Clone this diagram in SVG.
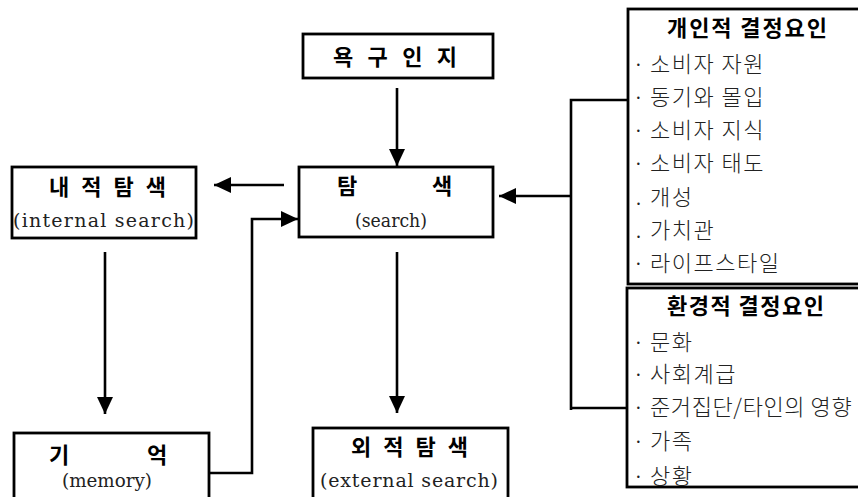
<svg xmlns="http://www.w3.org/2000/svg" width="858" height="497" viewBox="0 0 858 497">
  <style>
    .box { fill: #ffffff; stroke: #000000; stroke-width: 2.8; }
    .ttl { font-family: "Noto Sans CJK KR", "DejaVu Sans", sans-serif; font-weight: 700; font-size: 22px; fill: #000000; }
    .en { font-family: "DejaVu Serif", "Liberation Serif", serif; font-size: 19px; fill: #222222; }
    .item { font-family: "Noto Sans CJK KR", "DejaVu Sans", sans-serif; font-weight: 300; font-size: 22px; letter-spacing: 1.5px; fill: #222222; }
    .dot { font-family: "Liberation Serif", serif; font-size: 20px; fill: #222222; }
    .wire { fill: none; stroke: #000000; stroke-width: 2.6; }
    .arrow { fill: none; stroke: #000000; stroke-width: 2.6; marker-end: url(#head); }
  </style>
  <defs>
    <marker id="head" markerUnits="userSpaceOnUse" markerWidth="18" markerHeight="16" refX="17" refY="8" orient="auto">
      <path d="M0,0 L17,8 L0,16 Z" fill="#000000"/>
    </marker>
  </defs>
  <rect width="858" height="497" fill="#ffffff"/>

  <!-- connectors -->
  <g id="connectors">
    <line class="arrow" x1="397" y1="88" x2="397" y2="166"/>
    <line class="arrow" x1="284" y1="185" x2="214" y2="185"/>
    <line class="arrow" x1="105" y1="252" x2="105" y2="414"/>
    <path class="arrow" d="M209,473 H252 V219 H298"/>
    <line class="arrow" x1="397" y1="252" x2="397" y2="413"/>
    <path class="wire" d="M628,100 H571 V410"/>
    <line class="wire" x1="570" y1="408" x2="627" y2="408"/>
    <line class="arrow" x1="571" y1="196" x2="499" y2="196"/>
  </g>

  <!-- need recognition -->
  <g id="need">
    <rect class="box" x="303" y="34" width="190" height="44"/>
    <text class="ttl" x="333" y="65" textLength="124" lengthAdjust="spacing">욕 구 인 지</text>
  </g>

  <!-- search -->
  <g id="search">
    <rect class="box" x="299" y="167" width="194" height="70"/>
    <text class="ttl" x="337" y="194">탐</text>
    <text class="ttl" x="432" y="194">색</text>
    <text class="en" x="355" y="227" textLength="72" lengthAdjust="spacingAndGlyphs">(search)</text>
  </g>

  <!-- internal search -->
  <g id="internal">
    <rect class="box" x="12" y="167" width="184" height="71"/>
    <text class="ttl" x="49" y="194.5" textLength="117" lengthAdjust="spacing">내 적 탐 색</text>
    <text class="en" x="13" y="227" textLength="181" lengthAdjust="spacing">(internal search)</text>
  </g>

  <!-- memory -->
  <g id="memory">
    <rect class="box" x="14" y="433" width="195" height="70"/>
    <text class="ttl" x="49" y="462.5">기</text>
    <text class="ttl" x="147" y="462.5">억</text>
    <text class="en" x="62" y="487" textLength="90" lengthAdjust="spacingAndGlyphs">(memory)</text>
  </g>

  <!-- external search -->
  <g id="external">
    <rect class="box" x="313" y="428" width="195" height="75"/>
    <text class="ttl" x="351" y="454.5" textLength="117" lengthAdjust="spacing">외 적 탐 색</text>
    <text class="en" x="320" y="487" textLength="178" lengthAdjust="spacing">(external search)</text>
  </g>

  <!-- personal factors -->
  <g id="personal">
    <rect class="box" x="628" y="9" width="240" height="275"/>
    <text class="ttl" x="667" y="36" textLength="160" lengthAdjust="spacing">개인적 결정요인</text>
    <text class="dot" x="635" y="72">·</text>
    <text class="item" x="650" y="72">소비자 자원</text>
    <text class="dot" x="635" y="105">·</text>
    <text class="item" x="650" y="105">동기와 몰입</text>
    <text class="dot" x="635" y="138">·</text>
    <text class="item" x="650" y="138">소비자 지식</text>
    <text class="dot" x="635" y="171">·</text>
    <text class="item" x="650" y="171">소비자 태도</text>
    <text class="dot" x="636" y="205">.</text>
    <text class="item" x="650" y="205">개성</text>
    <text class="dot" x="636" y="238">.</text>
    <text class="item" x="650" y="238">가치관</text>
    <text class="dot" x="635" y="271">·</text>
    <text class="item" x="650" y="271">라이프스타일</text>
  </g>

  <!-- environmental factors -->
  <g id="environmental">
    <rect class="box" x="627" y="288" width="240" height="199"/>
    <text class="ttl" x="667" y="314" textLength="157" lengthAdjust="spacing">환경적 결정요인</text>
    <text class="dot" x="635" y="350">·</text>
    <text class="item" x="650" y="350">문화</text>
    <text class="dot" x="635" y="382">·</text>
    <text class="item" x="650" y="382">사회계급</text>
    <text class="dot" x="635" y="415">·</text>
    <text class="item" x="650" y="415" style="letter-spacing:0.6px">준거집단/타인의 영향</text>
    <text class="dot" x="635" y="449">·</text>
    <text class="item" x="650" y="449">가족</text>
    <text class="dot" x="635" y="484">·</text>
    <text class="item" x="650" y="484">상황</text>
  </g>
</svg>
